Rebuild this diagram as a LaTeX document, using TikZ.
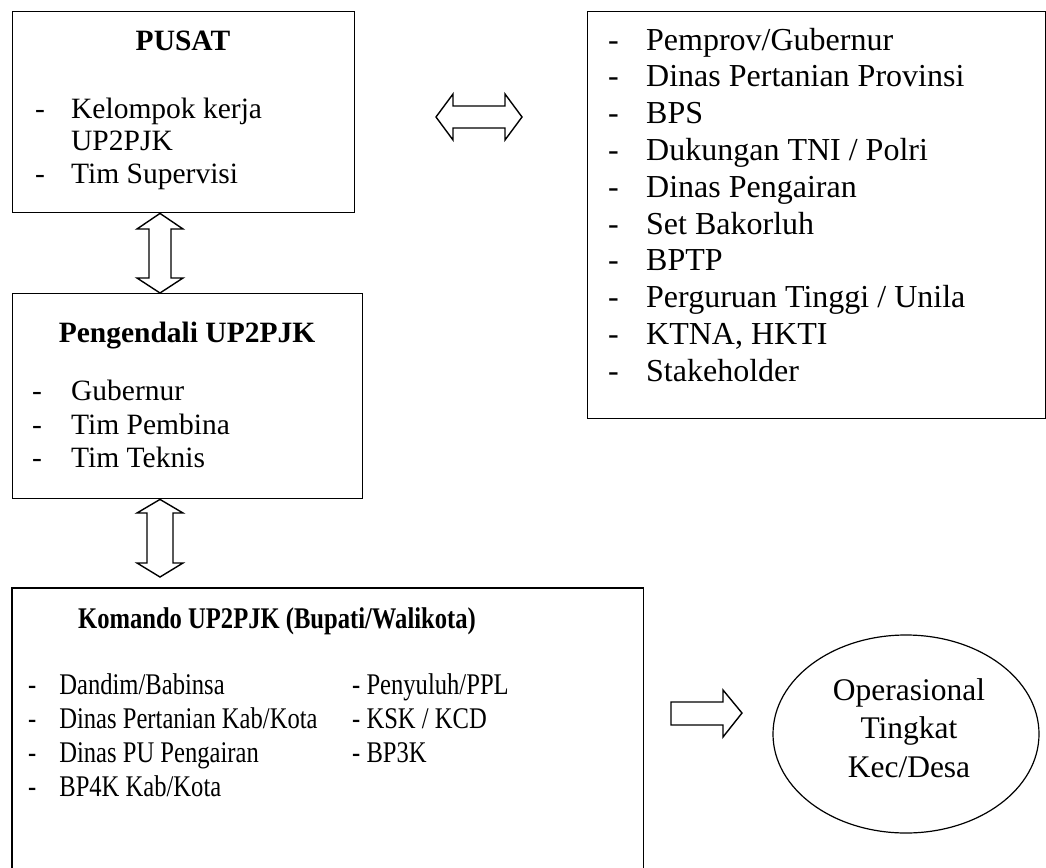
\documentclass[tikz,border=0pt]{standalone}
\usepackage{fontspec}
\setmainfont{Liberation Serif}
\usetikzlibrary{calc,shapes.geometric}
\begin{document}
\begin{tikzpicture}[x=1bp,y=-1bp,
  box/.style={draw, line width=1.4bp, inner sep=0pt, anchor=north west},
  blockarrow/.style={draw, line width=1.4bp, line join=miter, fill=white},
  itemA/.style={font=\fontsize{29.5bp}{33bp}\selectfont, anchor=base west, inner sep=0pt},
  titleA/.style={font=\fontsize{29.5bp}{33bp}\selectfont\bfseries, anchor=base, inner sep=0pt},
  itemB/.style={font=\fontsize{32bp}{36.7bp}\selectfont, anchor=base west, inner sep=0pt},
  itemK/.style={font=\fontsize{30bp}{34bp}\selectfont, anchor=base west, inner sep=0pt},
  titleK/.style={font=\fontsize{30bp}{34bp}\selectfont\bfseries, anchor=base, inner sep=0pt},
  opstxt/.style={font=\fontsize{31.5bp}{38.5bp}\selectfont, anchor=base, inner sep=0pt}
]
\useasboundingbox (0,0) rectangle (1046,868);

% ---------- boxes ----------
\node[box, minimum width=342bp, minimum height=201bp] (pusat) at (12,11) {};
\node[box, minimum width=458bp, minimum height=407bp] (right) at (587,11) {};
\node[box, minimum width=350bp, minimum height=205bp] (peng) at (12,293) {};
\node[inner sep=0pt, anchor=north west, minimum width=631bp, minimum height=290bp] (kom) at (12,588) {};
\draw[line width=1.4bp] (kom.south west) -- (kom.north west) -- (kom.north east) -- (kom.south east);
\node[ellipse, draw, line width=1.2bp, inner sep=0pt, minimum width=266bp, minimum height=198bp] (ops) at (906,734) {};

% ---------- PUSAT ----------
\node[titleA] (pusatT) at (183,50) {PUSAT};
\node[itemA] (pusat1) at (35,118) {\makebox[36bp][l]{-}Kelompok kerja};
\node[itemA] (pusat2) at (71,150) {UP2PJK};
\node[itemA] (pusat3) at (35,183) {\makebox[36bp][l]{-}Tim Supervisi};

% ---------- right list ----------
\foreach \t [count=\i] in {Pemprov/Gubernur, Dinas Pertanian Provinsi, BPS, Dukungan TNI / Polri, Dinas Pengairan, Set Bakorluh, BPTP, Perguruan Tinggi / Unila, {KTNA, HKTI}, Stakeholder}
  \node[itemB] (r\i) at (608,{50+36.8*(\i-1)}) {\makebox[38bp][l]{-}\t};

% ---------- Pengendali ----------
\node[titleA] (pengT) at (187,342) {Pengendali UP2PJK};
\node[itemA] (peng1) at (32,400) {\makebox[39bp][l]{-}Gubernur};
\node[itemA] (peng2) at (32,434) {\makebox[39bp][l]{-}Tim Pembina};
\node[itemA] (peng3) at (32,467) {\makebox[39bp][l]{-}Tim Teknis};

% ---------- Komando ----------
\node[titleK] (komT) at (277,628) {\scalebox{0.82}[1]{Komando UP2PJK (Bupati/Walikota)}};
\node[itemK] (k1) at (28,694) {\scalebox{0.82}[1]{\makebox[38bp][l]{-}Dandim/Babinsa}};
\node[itemK] (k2) at (28,728) {\scalebox{0.82}[1]{\makebox[38bp][l]{-}Dinas Pertanian Kab/Kota}};
\node[itemK] (k3) at (28,762) {\scalebox{0.82}[1]{\makebox[38bp][l]{-}Dinas PU Pengairan}};
\node[itemK] (k4) at (28,796) {\scalebox{0.82}[1]{\makebox[38bp][l]{-}BP4K Kab/Kota}};
\node[itemK] (k5) at (352,694) {\scalebox{0.82}[1]{- Penyuluh/PPL}};
\node[itemK] (k6) at (352,728) {\scalebox{0.82}[1]{- KSK / KCD}};
\node[itemK] (k7) at (352,762) {\scalebox{0.82}[1]{- BP3K}};

% ---------- ellipse text ----------
\node[opstxt] (ops1) at (909,700) {Operasional};
\node[opstxt] (ops2) at (909,738) {Tingkat};
\node[opstxt] (ops3) at (909,777) {Kec/Desa};

% ---------- block arrows ----------
% PUSAT <-> right list
\draw[blockarrow] (436,117) -- (453,94) -- (453,106) -- (505,106) -- (505,94) -- (522,117)
  -- (505,140) -- (505,128) -- (453,128) -- (453,140) -- cycle;
% PUSAT <-> Pengendali
\draw[blockarrow] ($(pusat.south west)+(148,0)$) -- (183,229) -- (171,229) -- (171,278) -- (183,278)
  -- ($(peng.north west)+(148,0)$) -- (137,278) -- (149,278) -- (149,229) -- (137,229) -- cycle;
% Pengendali <-> Komando
\draw[blockarrow] ($(peng.south west)+(148,0)$) -- (183,513) -- (173,513) -- (173,563) -- (183,563)
  -- (160,577) -- (137,563) -- (147,563) -- (147,513) -- (137,513) -- cycle;
% Komando -> Operasional
\draw[blockarrow] (671,702) -- (723,702) -- (723,690) -- (742,713) -- (723,737) -- (723,725)
  -- (671,725) -- cycle;
\end{tikzpicture}
\end{document}
